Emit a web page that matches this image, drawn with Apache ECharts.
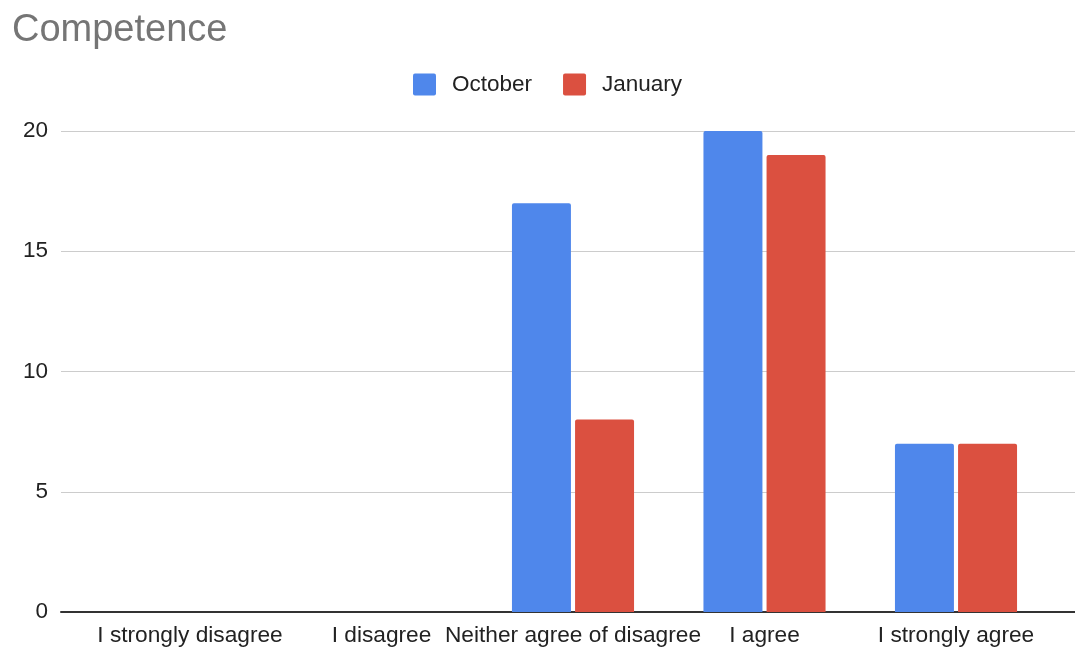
<!DOCTYPE html>
<html>
<head>
<meta charset="utf-8">
<style>
  html, body { margin: 0; padding: 0; background: #fff; }
  #main { width: 1075px; height: 649px; }
</style>
<script src="https://cdn.jsdelivr.net/npm/echarts@6/dist/echarts.min.js"></script>
</head>
<body>
<div id="main"></div>
<script>
var categories = ["I strongly disagree", "I disagree", "Neither agree of disagree", "I agree", "I strongly agree"];
var october = [0, 0, 17, 20, 7];
var january = [0, 0, 8, 19, 7];
var seriesNames = ["October", "January"];

var font = "'Liberation Sans', Arial, sans-serif";
var myChart = echarts.init(document.getElementById("main"));

// small rounded square like the sheets legend
var legendIcon = "path://M2,0 H21 A2,2 0 0 1 23,2 V20 A2,2 0 0 1 21,22 H2 A2,2 0 0 1 0,20 V2 A2,2 0 0 1 2,0 Z";

var option = {
  animation: false,
  color: ["#4f87eb", "#db5040"],
  title: {
    text: "Competence",
    left: 7,
    top: 7,
    textStyle: { color: "#757575", fontSize: 38, fontWeight: "normal", fontFamily: font }
  },
  legend: {
    data: seriesNames,
    left: 408,
    top: 68,
    itemWidth: 23,
    itemHeight: 22,
    itemGap: 31,
    icon: legendIcon,
    textStyle: { color: "#222", fontSize: 22.5, fontFamily: font, padding: [0, 0, 0, 11] }
  },
  grid: [
    { left: 61, right: 0, top: 131, bottom: 37 },
    { left: 94.25, right: 23.25, top: 131, bottom: 37 }
  ],
  xAxis: [
    {
      gridIndex: 0,
      type: "category",
      data: categories,
      axisLine: { lineStyle: { color: "#333", width: 2 } },
      axisTick: { show: false },
      axisLabel: { show: false },
      splitLine: { show: false }
    },
    {
      gridIndex: 1,
      type: "category",
      data: categories,
      axisLine: { show: false },
      axisTick: { show: false },
      axisLabel: { interval: 0, margin: 12, color: "#222", fontSize: 22.7, fontFamily: font },
      splitLine: { show: false }
    }
  ],
  yAxis: [
    {
      gridIndex: 0,
      type: "value",
      min: 0,
      max: 20,
      interval: 5,
      axisLine: { show: false },
      axisTick: { show: false },
      axisLabel: { margin: 13, color: "#222", fontSize: 22.5, fontFamily: font },
      splitLine: { lineStyle: { color: "#cccccc", width: 1 } }
    },
    {
      gridIndex: 1,
      type: "value",
      min: 0,
      max: 20,
      show: false
    }
  ],
  series: [
    {
      name: "October",
      type: "bar",
      xAxisIndex: 1,
      yAxisIndex: 1,
      barWidth: "30.8%",
      barGap: "7%",
      itemStyle: { borderRadius: [2, 2, 0, 0] },
      data: october
    },
    {
      name: "January",
      type: "bar",
      xAxisIndex: 1,
      yAxisIndex: 1,
      barWidth: "30.8%",
      barGap: "7%",
      itemStyle: { borderRadius: [2, 2, 0, 0] },
      data: january
    }
  ]
};

myChart.setOption(option);
</script>
</body>
</html>
